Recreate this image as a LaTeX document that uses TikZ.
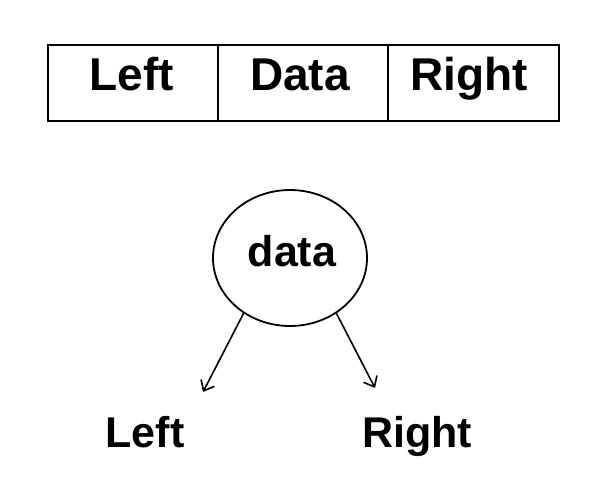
\documentclass[tikz,border=0pt]{standalone}
\usepackage{fontspec}
\setmainfont{Liberation Sans}
\usetikzlibrary{arrows.meta,shapes.geometric}
\begin{document}
\begin{tikzpicture}[x=1pt,y=-1pt,
  lbl/.style={font=\fontsize{46}{50}\selectfont\bfseries, anchor=base, inner sep=0pt},
  sublbl/.style={font=\fontsize{43}{46}\selectfont\bfseries, anchor=base, inner sep=0pt},
  cell/.style={draw, line width=2.2pt, minimum width=170pt, minimum height=76pt, inner sep=0pt, anchor=north west},
  conn/.style={line width=1.6pt, -{Straight Barb[length=9pt,width=15pt,line width=1.6pt]}}]
\useasboundingbox (0,0) rectangle (591,480);
\node[cell] (c1) at (47,44) {};
\node[cell] (c2) at (217,44) {};
\node[cell, minimum width=171pt] (c3) at (387,44) {};
\node[lbl] (t1) at (132,90) {Left};
\node[lbl] (t2) at (300,90) {Data};
\node[lbl] (t3) at (469,90) {Right};
\node[draw, ellipse, line width=1.8pt, minimum width=154pt, minimum height=136pt, inner sep=0pt] (e) at (290,258) {};
\node[sublbl] (d) at (292,266) {data};
\coordinate (la) at (203,392);
\coordinate (ra) at (375,388);
\draw[conn] (e.230) -- (la);
\draw[conn] (e.310) -- (ra);
\node[sublbl] (bl) at (145,447) {Left};
\node[sublbl] (br) at (417,447) {Right};
\end{tikzpicture}
\end{document}
